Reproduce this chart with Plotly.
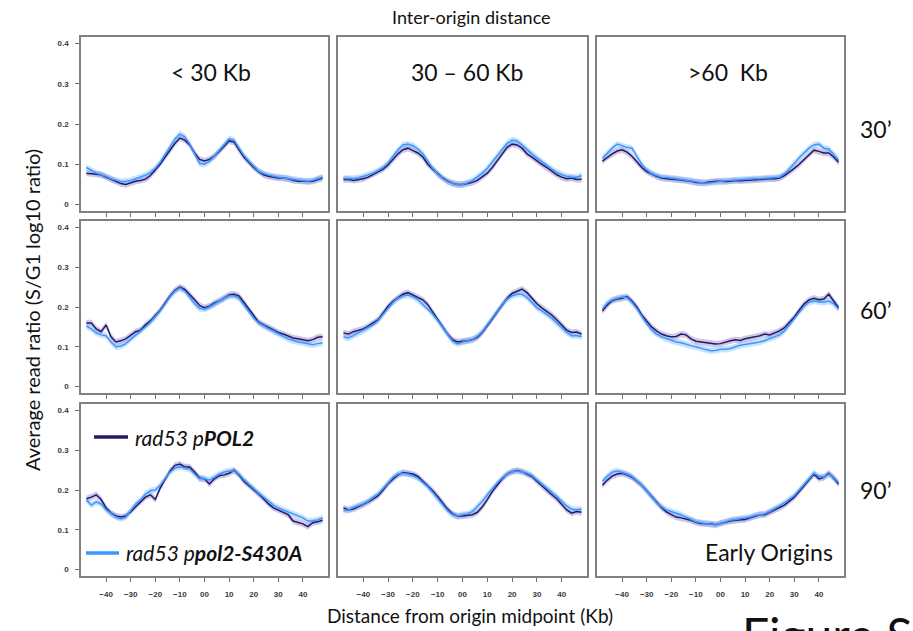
import numpy as np
import plotly.graph_objects as go
from plotly.subplots import make_subplots

# Distance from origin midpoint (Kb), binned every 2 Kb
distance_kb = list(range(-48, 49, 2))

distance_classes = ["< 30 Kb", "30 \u2013 60 Kb", ">60  Kb"]
timepoints = ["30\u2019", "60\u2019", "90\u2019"]
x_tick_values = [-40, -30, -20, -10, 0, 10, 20, 30, 40]
x_tick_labels = ["\u221240", "\u221230", "\u221220", "\u221210", "00", "10", "20", "30", "40"]
y_tick_values = [0, 0.1, 0.2, 0.3, 0.4]
y_tick_labels = ["0", "0.1", "0.2", "0.3", "0.4"]

# rad53 pPOL2 / rad53 ppol2-S430A mean S/G1 log10 ratios, 30 min
pol2_30_short = [0.078, 0.077, 0.076, 0.074, 0.068, 0.062, 0.058, 0.052, 0.050, 0.054, 0.058, 0.060, 0.063,
                 0.072, 0.085, 0.100, 0.118, 0.135, 0.152, 0.165, 0.160, 0.148, 0.128, 0.112, 0.108, 0.112,
                 0.120, 0.132, 0.145, 0.158, 0.155, 0.135, 0.118, 0.105, 0.092, 0.082, 0.074, 0.070, 0.068,
                 0.066, 0.066, 0.064, 0.060, 0.058, 0.058, 0.057, 0.058, 0.062, 0.066]
s430a_30_short = [0.092, 0.085, 0.078, 0.074, 0.070, 0.064, 0.060, 0.057, 0.058, 0.060, 0.064, 0.068, 0.073,
                  0.080, 0.090, 0.105, 0.125, 0.145, 0.163, 0.175, 0.168, 0.150, 0.125, 0.102, 0.100, 0.108,
                  0.120, 0.135, 0.150, 0.163, 0.160, 0.142, 0.122, 0.108, 0.095, 0.083, 0.077, 0.073, 0.070,
                  0.068, 0.066, 0.064, 0.062, 0.060, 0.059, 0.058, 0.060, 0.064, 0.068]
pol2_30_mid = [0.062, 0.063, 0.060, 0.062, 0.064, 0.068, 0.075, 0.082, 0.088, 0.098, 0.112, 0.126, 0.136,
               0.140, 0.134, 0.128, 0.118, 0.100, 0.088, 0.076, 0.066, 0.058, 0.053, 0.050, 0.050, 0.052,
               0.055, 0.060, 0.068, 0.078, 0.092, 0.108, 0.126, 0.142, 0.150, 0.148, 0.140, 0.126, 0.118,
               0.108, 0.100, 0.092, 0.082, 0.074, 0.068, 0.064, 0.066, 0.062, 0.063]
s430a_30_mid = [0.065, 0.064, 0.064, 0.066, 0.070, 0.073, 0.078, 0.084, 0.092, 0.104, 0.120, 0.136, 0.148,
                0.150, 0.146, 0.138, 0.126, 0.108, 0.090, 0.076, 0.065, 0.057, 0.052, 0.049, 0.050, 0.054,
                0.060, 0.068, 0.078, 0.090, 0.106, 0.122, 0.138, 0.152, 0.160, 0.158, 0.148, 0.136, 0.126,
                0.116, 0.106, 0.096, 0.088, 0.080, 0.074, 0.070, 0.068, 0.068, 0.072]
pol2_30_long = [0.108, 0.118, 0.126, 0.133, 0.136, 0.130, 0.120, 0.106, 0.092, 0.082, 0.075, 0.070, 0.066,
                0.064, 0.063, 0.062, 0.061, 0.060, 0.058, 0.055, 0.054, 0.055, 0.057, 0.058, 0.058, 0.057,
                0.058, 0.060, 0.059, 0.060, 0.061, 0.061, 0.062, 0.063, 0.064, 0.064, 0.066, 0.072, 0.080,
                0.090, 0.100, 0.112, 0.125, 0.135, 0.132, 0.128, 0.128, 0.118, 0.105]
s430a_30_long = [0.115, 0.128, 0.140, 0.150, 0.146, 0.142, 0.140, 0.120, 0.100, 0.086, 0.077, 0.072, 0.068,
                 0.067, 0.066, 0.064, 0.062, 0.060, 0.058, 0.056, 0.054, 0.053, 0.054, 0.056, 0.058, 0.059,
                 0.060, 0.061, 0.061, 0.062, 0.063, 0.064, 0.064, 0.065, 0.066, 0.066, 0.068, 0.076, 0.088,
                 0.102, 0.116, 0.128, 0.140, 0.148, 0.150, 0.140, 0.138, 0.125, 0.110]

# 60 min
pol2_60_short = [0.160, 0.160, 0.145, 0.138, 0.155, 0.125, 0.112, 0.115, 0.120, 0.128, 0.138, 0.142, 0.155,
                 0.165, 0.178, 0.192, 0.210, 0.228, 0.242, 0.250, 0.244, 0.232, 0.218, 0.204, 0.198, 0.202,
                 0.210, 0.215, 0.222, 0.230, 0.232, 0.228, 0.212, 0.195, 0.178, 0.162, 0.155, 0.148, 0.142,
                 0.136, 0.132, 0.126, 0.122, 0.120, 0.118, 0.115, 0.118, 0.124, 0.125]
s430a_60_short = [0.152, 0.145, 0.135, 0.130, 0.128, 0.112, 0.100, 0.102, 0.108, 0.118, 0.130, 0.140, 0.150,
                  0.162, 0.175, 0.190, 0.208, 0.226, 0.240, 0.248, 0.240, 0.225, 0.208, 0.196, 0.195, 0.200,
                  0.208, 0.214, 0.222, 0.228, 0.228, 0.222, 0.205, 0.190, 0.172, 0.160, 0.152, 0.146, 0.140,
                  0.132, 0.126, 0.120, 0.115, 0.112, 0.110, 0.108, 0.105, 0.108, 0.110]
pol2_60_mid = [0.135, 0.132, 0.138, 0.142, 0.145, 0.152, 0.160, 0.168, 0.185, 0.202, 0.214, 0.224, 0.232,
               0.236, 0.230, 0.226, 0.218, 0.206, 0.188, 0.170, 0.150, 0.132, 0.118, 0.112, 0.114, 0.115,
               0.118, 0.124, 0.136, 0.152, 0.170, 0.188, 0.205, 0.222, 0.234, 0.240, 0.245, 0.236, 0.222,
               0.208, 0.198, 0.190, 0.180, 0.168, 0.155, 0.142, 0.136, 0.137, 0.132]
s430a_60_mid = [0.125, 0.122, 0.128, 0.135, 0.140, 0.148, 0.156, 0.166, 0.182, 0.198, 0.212, 0.222, 0.228,
                0.230, 0.226, 0.218, 0.206, 0.196, 0.182, 0.166, 0.148, 0.130, 0.114, 0.108, 0.112, 0.116,
                0.118, 0.126, 0.138, 0.155, 0.172, 0.190, 0.206, 0.220, 0.228, 0.232, 0.232, 0.224, 0.212,
                0.198, 0.190, 0.182, 0.172, 0.160, 0.148, 0.136, 0.128, 0.128, 0.126]
pol2_60_long = [0.190, 0.205, 0.216, 0.220, 0.222, 0.226, 0.215, 0.200, 0.180, 0.165, 0.150, 0.140, 0.132,
                0.128, 0.125, 0.126, 0.132, 0.130, 0.120, 0.114, 0.112, 0.110, 0.108, 0.107, 0.108, 0.112,
                0.115, 0.118, 0.116, 0.120, 0.122, 0.125, 0.128, 0.132, 0.130, 0.135, 0.140, 0.148, 0.162,
                0.175, 0.192, 0.208, 0.218, 0.222, 0.218, 0.220, 0.232, 0.215, 0.198]
s430a_60_long = [0.195, 0.210, 0.218, 0.222, 0.225, 0.224, 0.212, 0.196, 0.176, 0.158, 0.142, 0.132, 0.125,
                 0.120, 0.116, 0.112, 0.110, 0.106, 0.103, 0.100, 0.096, 0.093, 0.090, 0.091, 0.094, 0.094,
                 0.096, 0.100, 0.104, 0.106, 0.108, 0.110, 0.112, 0.116, 0.120, 0.125, 0.130, 0.140, 0.155,
                 0.170, 0.188, 0.202, 0.212, 0.215, 0.213, 0.212, 0.215, 0.208, 0.195]

# 90 min
pol2_90_short = [0.178, 0.182, 0.188, 0.176, 0.155, 0.142, 0.135, 0.132, 0.135, 0.145, 0.158, 0.170, 0.182,
                 0.188, 0.176, 0.205, 0.228, 0.248, 0.262, 0.265, 0.258, 0.258, 0.245, 0.230, 0.228, 0.215,
                 0.228, 0.236, 0.238, 0.242, 0.250, 0.238, 0.222, 0.212, 0.200, 0.190, 0.178, 0.165, 0.155,
                 0.150, 0.145, 0.138, 0.122, 0.118, 0.115, 0.108, 0.118, 0.120, 0.124]
s430a_90_short = [0.175, 0.162, 0.170, 0.165, 0.150, 0.140, 0.132, 0.128, 0.132, 0.148, 0.165, 0.175, 0.190,
                  0.198, 0.200, 0.212, 0.230, 0.245, 0.255, 0.258, 0.256, 0.252, 0.240, 0.228, 0.228, 0.225,
                  0.232, 0.240, 0.245, 0.248, 0.248, 0.240, 0.226, 0.214, 0.202, 0.192, 0.182, 0.172, 0.162,
                  0.155, 0.150, 0.145, 0.138, 0.135, 0.130, 0.122, 0.122, 0.125, 0.130]
pol2_90_mid = [0.155, 0.150, 0.152, 0.158, 0.163, 0.170, 0.178, 0.186, 0.200, 0.216, 0.228, 0.238, 0.244,
               0.242, 0.240, 0.234, 0.222, 0.212, 0.198, 0.184, 0.168, 0.152, 0.140, 0.134, 0.135, 0.136,
               0.138, 0.144, 0.158, 0.176, 0.196, 0.212, 0.228, 0.240, 0.246, 0.249, 0.246, 0.240, 0.234,
               0.222, 0.210, 0.198, 0.188, 0.178, 0.164, 0.150, 0.142, 0.146, 0.144]
s430a_90_mid = [0.148, 0.150, 0.156, 0.160, 0.165, 0.172, 0.180, 0.190, 0.204, 0.218, 0.232, 0.240, 0.242,
                0.240, 0.236, 0.230, 0.220, 0.208, 0.194, 0.178, 0.162, 0.148, 0.138, 0.134, 0.138, 0.140,
                0.146, 0.158, 0.172, 0.188, 0.204, 0.218, 0.230, 0.240, 0.246, 0.248, 0.246, 0.242, 0.236,
                0.226, 0.216, 0.206, 0.196, 0.184, 0.172, 0.160, 0.152, 0.150, 0.152]
pol2_90_long = [0.212, 0.225, 0.235, 0.240, 0.242, 0.238, 0.232, 0.222, 0.212, 0.198, 0.185, 0.170, 0.156,
                0.145, 0.138, 0.132, 0.130, 0.127, 0.124, 0.119, 0.116, 0.115, 0.115, 0.113, 0.116, 0.120,
                0.122, 0.124, 0.125, 0.126, 0.130, 0.134, 0.138, 0.138, 0.144, 0.150, 0.155, 0.162, 0.172,
                0.182, 0.196, 0.210, 0.225, 0.240, 0.228, 0.232, 0.242, 0.230, 0.215]
s430a_90_long = [0.222, 0.235, 0.245, 0.248, 0.244, 0.240, 0.234, 0.224, 0.212, 0.198, 0.182, 0.168, 0.158,
                 0.150, 0.146, 0.142, 0.138, 0.132, 0.126, 0.120, 0.118, 0.116, 0.114, 0.112, 0.116, 0.120,
                 0.124, 0.126, 0.128, 0.130, 0.132, 0.136, 0.138, 0.140, 0.146, 0.152, 0.160, 0.168, 0.176,
                 0.186, 0.200, 0.214, 0.228, 0.242, 0.235, 0.232, 0.240, 0.232, 0.218]

# standard error of the mean used for the shaded ribbons
pol2_sem = 0.008
s430a_sem = 0.008

pol2_panels = [[pol2_30_short, pol2_30_mid, pol2_30_long],
               [pol2_60_short, pol2_60_mid, pol2_60_long],
               [pol2_90_short, pol2_90_mid, pol2_90_long]]
s430a_panels = [[s430a_30_short, s430a_30_mid, s430a_30_long],
                [s430a_60_short, s430a_60_mid, s430a_60_long],
                [s430a_90_short, s430a_90_mid, s430a_90_long]]

POL2_LINE = "#221a6b"
POL2_BAND = "rgba(120,95,180,0.35)"
S430A_LINE = "#3b97ff"
S430A_BAND = "rgba(95,170,255,0.35)"

W, H = 913, 631
col_px = [(81, 328), (338, 587), (597, 844)]
row_px = [(37, 211), (221, 393), (404, 576)]

fig = make_subplots(rows=3, cols=3)


def ribbon(x, y, sem, color, row, col):
    x = np.asarray(x, dtype=float)
    y = np.asarray(y, dtype=float)
    fig.add_trace(go.Scatter(x=np.concatenate([x, x[::-1]]),
                             y=np.concatenate([y + sem, (y - sem)[::-1]]),
                             fill="toself", fillcolor=color, line=dict(width=0),
                             mode="lines", hoverinfo="skip", showlegend=False),
                  row=row, col=col)


for r in range(3):
    for c in range(3):
        ribbon(distance_kb, pol2_panels[r][c], pol2_sem, POL2_BAND, r + 1, c + 1)
        ribbon(distance_kb, s430a_panels[r][c], s430a_sem, S430A_BAND, r + 1, c + 1)
        fig.add_trace(go.Scatter(x=distance_kb, y=pol2_panels[r][c], mode="lines",
                                 line=dict(color=POL2_LINE, width=1.5), name="rad53 pPOL2",
                                 showlegend=False), row=r + 1, col=c + 1)
        fig.add_trace(go.Scatter(x=distance_kb, y=s430a_panels[r][c], mode="lines",
                                 line=dict(color=S430A_LINE, width=1.5), name="rad53 ppol2-S430A",
                                 showlegend=False), row=r + 1, col=c + 1)

        x0, x1 = col_px[c]
        y0, y1 = row_px[r]
        fig.update_xaxes(domain=[x0 / W, x1 / W], range=[-50.2, 50.2],
                         tickvals=x_tick_values, ticktext=x_tick_labels,
                         showticklabels=(r == 2), ticks="outside", ticklen=4, tickwidth=1,
                         tickcolor="#6e6e6e", showgrid=False, zeroline=False,
                         showline=True, mirror=True, linecolor="#808080", linewidth=1.5,
                         tickfont=dict(family="Liberation Sans", size=8, color="#3a3a3a", weight="bold"),
                         ticklabelstandoff=6,
                         row=r + 1, col=c + 1)
        fig.update_yaxes(domain=[1 - y1 / H, 1 - y0 / H], range=[-0.016, 0.416],
                         tickvals=y_tick_values, ticktext=y_tick_labels,
                         showticklabels=(c == 0), ticks="outside" if c == 0 else "",
                         ticklen=4, tickwidth=1, tickcolor="#6e6e6e",
                         showgrid=False, zeroline=False,
                         showline=True, mirror=True, linecolor="#808080", linewidth=1.5,
                         tickfont=dict(family="Liberation Sans", size=8, color="#3a3a3a", weight="bold"),
                         ticklabelstandoff=5,
                         row=r + 1, col=c + 1)

TXT = "Lato"
annotations = []


def text(s, x, y, size, xanchor="center", yanchor="middle", **kw):
    annotations.append(dict(text=s, x=x / W, y=1 - y / H, xref="paper", yref="paper",
                            xanchor=xanchor, yanchor=yanchor, showarrow=False,
                            font=dict(family=TXT, size=size, color="#111"), **kw))


text("Inter-origin distance", 471, 17, 18)
header_x = [211, 467, 728]
for name, hx in zip(distance_classes, header_x):
    text(name, hx, 72, 23)
row_label_y = [129, 310, 490]
for name, ry in zip(timepoints, row_label_y):
    text(name, 876, ry, 23)
text("Early Origins", 769, 552, 23)
text("<i>rad53 p<b>POL2</b></i>", 133, 437, 21, xanchor="left")
text("<i>rad53 p<b>pol2-S430A</b></i>", 124, 552, 21, xanchor="left")
text("Average read ratio (S/G1 log10 ratio)", 32, 310, 20, textangle=-90)
text("Distance from origin midpoint (Kb)", 470, 615, 19)
text("Figure S", 740, 604, 48, xanchor="left", yanchor="top")

shapes = [
    dict(type="line", xref="paper", yref="paper", x0=94 / W, x1=128 / W, y0=1 - 437 / H, y1=1 - 437 / H,
         line=dict(color=POL2_LINE, width=3.5)),
    dict(type="line", xref="paper", yref="paper", x0=86 / W, x1=119 / W, y0=1 - 553 / H, y1=1 - 553 / H,
         line=dict(color=S430A_LINE, width=3.5)),
]

fig.update_layout(width=W, height=H, margin=dict(l=0, r=0, t=0, b=0),
                  plot_bgcolor="white", paper_bgcolor="white", showlegend=False,
                  annotations=annotations, shapes=shapes)

fig.write_html("out.html")
